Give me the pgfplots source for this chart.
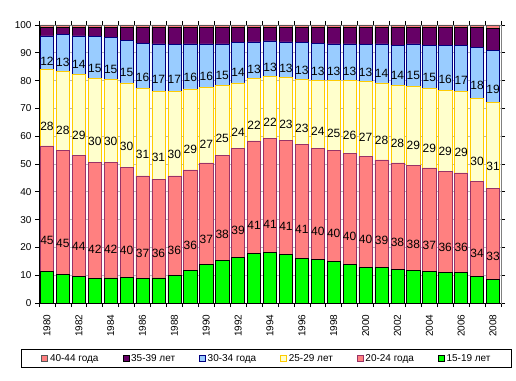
\documentclass[border=0pt]{standalone}
\usepackage{pgfplots}
\pgfplotsset{compat=1.18}
\usepackage{pgfplotstable}
\usepackage{fontspec}
\setmainfont{Liberation Sans}
\definecolor{cgreen}{HTML}{00FF00}
\definecolor{cred}{HTML}{FF8080}
\definecolor{credb}{HTML}{993366}
\definecolor{cyel}{HTML}{FFFFCC}
\definecolor{cyelb}{HTML}{FFCC00}
\definecolor{cblue}{HTML}{99CCFF}
\definecolor{cblueb}{HTML}{000080}
\definecolor{cpur}{HTML}{660066}
\definecolor{cpink}{HTML}{FF8080}

\makeatletter
\pgfplotsset{
  calculate offset/.code={
    \pgfkeys{/pgf/fpu=true,/pgf/fpu/output format=fixed}
    \pgfmathsetmacro\testmacro{(\pgfplotspointmeta*10^\pgfplots@data@scale@trafo@EXPONENT@y)*\pgfplots@y@veclength/4}
    \pgfkeys{/pgf/fpu=false}
  },
  every node near coord/.style={
    /pgfplots/calculate offset,
    yshift=-\testmacro,
    font=\fontsize{12}{14}\selectfont, text=black, inner sep=0pt
  },
  sq/.style={legend image code/.code={\draw[##1,line width=0.6pt] (0pt,-3pt) rectangle (6pt,3pt);}},
}
\makeatother

\pgfplotstableread{
year g r y b p o
1980 11.3 45.2 27.6 12.0 3.05 0.85
1981 10.2 44.8 28.2 13.3 2.65 0.85
1982 9.5 43.6 29.2 13.8 3.05 0.85
1983 8.8 41.9 30.1 15.0 3.35 0.85
1984 9.0 41.6 29.8 15.0 3.75 0.85
1985 9.2 39.6 30.4 15.4 4.55 0.85
1986 8.8 36.9 31.4 16.4 5.65 0.85
1987 9.0 35.6 31.4 17.2 5.95 0.85
1988 9.9 35.8 30.4 16.9 6.15 0.85
1989 11.7 36.2 29.1 16.2 5.95 0.85
1990 13.8 36.6 27.2 15.6 5.95 0.85
1991 15.4 37.6 25.3 14.9 5.95 0.85
1992 16.3 39.2 23.7 14.4 5.55 0.85
1993 17.7 40.6 22.4 13.2 5.25 0.85
1994 18.1 41.2 22.3 12.7 4.85 0.85
1995 17.4 41.0 22.8 12.7 5.25 0.85
1996 16.1 40.9 23.4 13.2 5.55 0.85
1997 15.7 39.9 24.4 13.4 5.75 0.85
1998 15.0 39.8 25.2 13.2 5.95 0.85
1999 13.8 40.0 26.2 13.2 5.95 0.85
2000 12.9 39.8 26.9 13.4 6.15 0.85
2001 12.9 38.6 27.7 14.0 5.95 0.85
2002 12.1 38.3 28.0 14.4 6.35 0.85
2003 11.8 37.6 28.6 15.2 5.95 0.85
2004 11.4 37.2 28.7 15.4 6.45 0.85
2005 11.0 36.4 29.0 16.4 6.35 0.85
2006 11.0 35.8 29.2 16.8 6.35 0.85
2007 9.5 34.1 30.0 18.2 7.35 0.85
2008 8.6 32.7 30.8 18.9 7.70 1.30
}\datatable

\begin{document}
\begin{tikzpicture}
\begin{axis}[
  name=ax,
  width=462pt, height=278pt, scale only axis,
  ybar stacked, bar width=0.83,
  xmin=1979.5, xmax=2008.5, ymin=0, ymax=100,
  enlargelimits=false,
  xtick={1980,1982,...,2008},
  minor xtick={1979.5,1980.5,...,2008.5},
  ytick={0,10,...,100},
  tick align=outside,
  major tick length=4pt, minor tick length=4pt,
  major x tick style={draw=none},
  minor x tick style={black, line width=0.6pt},
  major y tick style={black, line width=0.6pt},
  xticklabel style={rotate=90, anchor=east},
  xticklabel shift=4pt,
  tick label style={font=\fontsize{10}{12}\selectfont, text=black},
  /pgf/number format/1000 sep={},
  /pgf/number format/assume math mode=true,
  ymajorgrids, major grid style={gray!55, line width=0.6pt},
  axis line style={gray, line width=0.6pt},
  point meta=rawy,
  nodes near coords align={center},
  legend columns=6, reverse legend,
  legend style={
    at={(0.4924,-0.1655)}, anchor=north,
    draw=black, line width=0.8pt,
    font=\fontsize{10}{12}\selectfont,
    inner xsep=20pt, inner ysep=4pt,
    nodes={inner sep=1pt},
    column sep=1pt,
    /tikz/every even column/.append style={column sep=23pt},
  },
]
\addplot[fill=cgreen, draw=black, line width=0.6pt, sq] table[x=year,y=g]{\datatable};
\addlegendentry{15-19 лет}
\addplot[fill=cred, draw=credb, line width=0.6pt, sq,
  nodes near coords={\pgfmathprintnumber[fixed,precision=0]{\pgfplotspointmeta}}] table[x=year,y=r]{\datatable};
\addlegendentry{20-24 года}
\addplot[fill=cyel, draw=cyelb, line width=0.6pt, sq,
  nodes near coords={\pgfmathprintnumber[fixed,precision=0]{\pgfplotspointmeta}}] table[x=year,y=y]{\datatable};
\addlegendentry{25-29 лет}
\addplot[fill=cblue, draw=cblueb, line width=0.6pt, sq,
  nodes near coords={\pgfmathprintnumber[fixed,precision=0]{\pgfplotspointmeta}}] table[x=year,y=b]{\datatable};
\addlegendentry{30-34 года}
\addplot[fill=cpur, draw=black, line width=0.6pt, sq] table[x=year,y=p]{\datatable};
\addlegendentry{35-39 лет}
\addplot[fill=cpink, draw=gray!70!black, line width=0.6pt, sq] table[x=year,y=o]{\datatable};
\addlegendentry{40-44 года}
\draw[black, line width=0.8pt] (rel axis cs:0,1) -- (rel axis cs:0,0) -- (rel axis cs:1,0);
\node[font=\fontsize{11}{13}\selectfont] at (axis description cs:0.031,1.036) {\%};
\end{axis}
\pgfresetboundingbox
\path[use as bounding box] ([shift={(-39pt,-77pt)}]ax.south west) rectangle ++(516pt,380pt);
\end{tikzpicture}
\end{document}
